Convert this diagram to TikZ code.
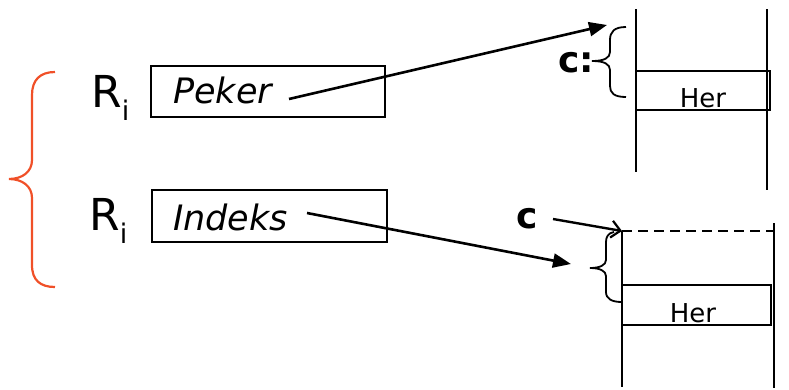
\documentclass[tikz,border=0pt]{standalone}
\usepackage{fontspec}
\setmainfont{DejaVu Sans}
\usetikzlibrary{arrows.meta}
\definecolor{bracered}{RGB}{240,80,40}
\tikzset{
  field/.style={draw, line width=2pt, minimum width=#1, minimum height=51pt, inner sep=0pt},
  slot/.style={draw, line width=2pt},
  wall/.style={line width=2pt},
  pointer/.style={line width=2.6pt, -{Triangle[length=18pt,width=14pt]}},
  offset/.style={line width=2.4pt, -{Straight Barb[length=9pt,width=17pt,line width=2.2pt]}},
  bigtxt/.style={inner sep=0pt, anchor=base west, font=\fontsize{44}{50}\selectfont},
  fieldtxt/.style={inner sep=0pt, anchor=base west, font=\fontsize{35}{40}\selectfont\itshape},
  slottxt/.style={inner sep=0pt, anchor=base, font=\fontsize{26}{30}\selectfont},
  clabel/.style={inner sep=0pt, anchor=base west, font=\fontsize{36}{40}\selectfont\bfseries},
  thinbrace/.style={line width=1.8pt},
  redbrace/.style={draw=bracered, line width=2.2pt}
}
\newcommand{\recsub}{R\raisebox{-13pt}{\fontsize{27}{27}\selectfont i}}
\begin{document}
\begin{tikzpicture}[x=1pt,y=-1pt]
\useasboundingbox (0,0) rectangle (789,389);

% record brace
\draw[redbrace] (55,72) .. controls (40,72) and (32,80) .. (32,95) -- (32,160)
  .. controls (32,172) and (22,179) .. (9,179)
  .. controls (22,179) and (32,186) .. (32,198) -- (32,265)
  .. controls (32,280) and (40,287) .. (55,287);

% record labels
\node[bigtxt] (r1) at (91,107) {\recsub};
\node[bigtxt] (r2) at (89,230) {\recsub};

% fields
\node[field=234pt] (pbox) at (268,91.5) {};
\node[field=235pt, minimum height=52pt] (ibox) at (269.5,216) {};
\node[fieldtxt] (peker) at (173,103) {Peker};
\node[fieldtxt] (indeks) at (173,230) {Indeks};
\coordinate (pstart) at (289,99);
\coordinate (istart) at (307,213);

% upper memory column
\draw[wall] (636,9) coordinate (ul1) -- (636,172) coordinate (ul2);
\draw[wall] (767,9) coordinate (ur1) -- (767,190) coordinate (ur2);
\node[slot, minimum width=134pt, minimum height=39pt, inner sep=0pt] (her1) at (703,90.5) {};
\node[slottxt] (hertxt1) at (703,107) {Her};

% lower memory column
\coordinate (dl) at (622,231);
\coordinate (dr) at (773,231);
\draw[wall] (dl) -- (622,387) coordinate (ll2);
\draw[wall] (774,223) coordinate (lr1) -- (774,388) coordinate (lr2);
\draw[line width=1.8pt, dash pattern=on 10pt off 6pt] (dl) -- (dr);
\node[slot, minimum width=149pt, minimum height=40pt, inner sep=0pt] (her2) at (696.5,305) {};
\node[slottxt] (hertxt2) at (693,322) {Her};

% offset braces
\draw[thinbrace] (626,27) .. controls (614,27) and (610,32) .. (610,40) -- (610,52)
  .. controls (610,58) and (604,61) .. (592,61)
  .. controls (604,61) and (610,64) .. (610,70) -- (610,86)
  .. controls (610,93) and (614,97) .. (626,97);
\draw[thinbrace] (614,232) .. controls (608,233) and (606,237) .. (606,242) -- (606,260)
  .. controls (606,265) and (600,268) .. (590,268)
  .. controls (600,268) and (606,271) .. (606,276) -- (606,292)
  .. controls (606,299) and (612,302) .. (622,302);

% offset labels
\node[clabel] (c1) at (558,72) {c:};
\node[clabel] (c2) at (516,228) {c};
\coordinate (cstart) at (553,219);

% pointers
\coordinate (ptip) at (607,25);
\coordinate (itip) at (571,264);
\draw[pointer] (pstart) -- (ptip);
\draw[pointer] (istart) -- (itip);
\draw[offset] (cstart) -- (dl);
\end{tikzpicture}
\end{document}
